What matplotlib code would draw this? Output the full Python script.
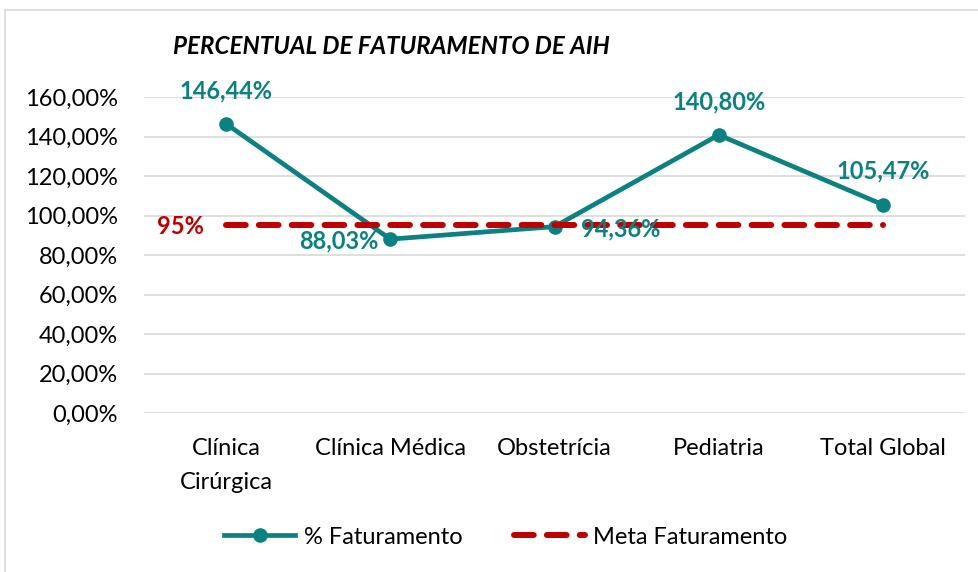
import matplotlib
matplotlib.use("Agg")
import matplotlib.pyplot as plt
from matplotlib.patches import Rectangle

plt.rcParams['font.family'] = ['Lato', 'DejaVu Sans']

categories = ["Clínica\nCirúrgica", "Clínica Médica", "Obstetrícia", "Pediatria", "Total Global"]
faturamento = [146.44, 88.03, 94.36, 140.80, 105.47]
meta = [95, 95, 95, 95, 95]
labels = ["146,44%", "88,03%", "94,36%", "140,80%", "105,47%"]
yticks = [0, 20, 40, 60, 80, 100, 120, 140, 160]
ytick_labels = ["0,00%", "20,00%", "40,00%", "60,00%", "80,00%", "100,00%", "120,00%", "140,00%", "160,00%"]

teal = "#0B8281"
red = "#C00000"

fig = plt.figure(figsize=(9.79, 5.72), dpi=100)
fig.patches.append(Rectangle((5/979, -0.1), 1.2, 1 - 10/572 + 0.1, transform=fig.transFigure,
                             fill=False, edgecolor="#D9D9D9", linewidth=1.2))
ax = fig.add_axes([144/979, 1 - 413/572, 821/979, (413 - 97)/572])

x = list(range(len(categories)))
ax.plot(x, meta, color=red, linewidth=4.3, linestyle=(0, (3.3, 2.2)), dash_capstyle='round',
        label="Meta Faturamento", zorder=3)
ax.plot(x, faturamento, color=teal, linewidth=3.4, marker='o', markersize=9.5,
        label="% Faturamento", zorder=2)

ax.set_xlim(-0.5, len(categories) - 0.5)
ax.set_ylim(0, 160)
ax.set_yticks(yticks)
ax.set_yticklabels(ytick_labels, fontsize=17, color="#000000")
ax.set_xticks(x)
ax.set_xticklabels(categories, fontsize=17, color="#000000", linespacing=1.75)
ax.tick_params(axis='x', length=0, pad=18)
ax.tick_params(axis='y', length=0, pad=19)
ax.grid(axis='y', color="#D9D9D9", linewidth=1.2)
ax.set_axisbelow(True)
for s in ax.spines.values():
    s.set_visible(False)

# data labels (offsets in points, label centre relative to point)
offsets = [(0, 24), (-37, -1), (48, -2), (0, 24), (0, 24)]
for xi, yi, lab, (dx, dy) in zip(x, faturamento, labels, offsets):
    ax.annotate(lab, (xi, yi), xytext=(dx, dy), textcoords='offset points', ha='center', va='center',
                fontsize=17, fontweight='bold', color=teal)

ax.annotate("95%", (0, 95), xytext=(-33, -1), textcoords='offset points', ha='center', va='center',
            fontsize=17, fontweight='bold', color=red)

fig.text(173/979, 1 - 47/572, "PERCENTUAL DE FATURAMENTO DE AIH", fontsize=17.4, fontweight='bold',
         fontstyle='italic', ha='left', va='center', color="#000000")

handles, lbls = ax.get_legend_handles_labels()
leg = fig.legend(handles[::-1], lbls[::-1], loc='center', bbox_to_anchor=(506/979, 1 - 537/572), ncol=2,
                 frameon=False, fontsize=17, handlelength=3.0, columnspacing=2.2, handletextpad=0.35)

fig.savefig("out.png", dpi=100)
